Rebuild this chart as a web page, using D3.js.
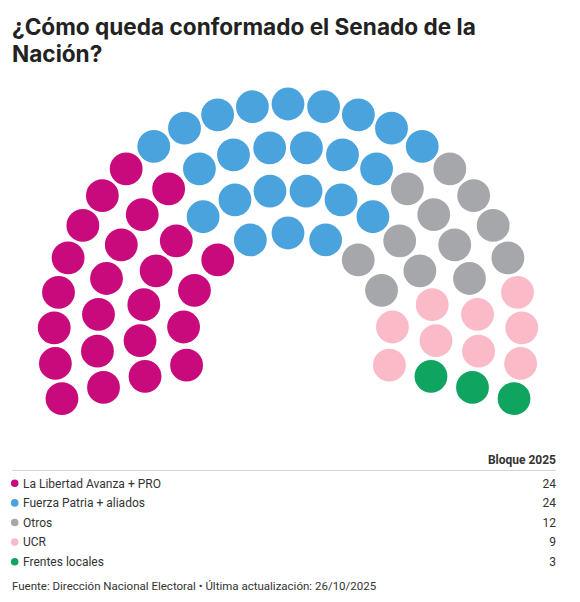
<!DOCTYPE html>
<html><head><meta charset="utf-8">
<script src="https://cdn.jsdelivr.net/npm/d3@7"></script>
<style>body{margin:0;background:#fff}svg{display:block}</style>
</head><body>
<svg id="c" width="580" height="602"></svg>
<script>
// ---- data ----
const parties = ["La Libertad Avanza + PRO","Fuerza Patria + aliados","Otros","UCR","Frentes locales"];
const seats = [24,24,12,9,3];
const colors = ["#c80a7d","#4ba3dd","#a5a7aa","#fbbac8","#0fa45f"];
const rowSeats = [11,16,20,25];
const titleLines = ["¿Cómo queda conformado el Senado de la","Nación?"];
const headerLabel = "Bloque 2025";
const footer = "Fuente: Dirección Nacional Electoral • Última actualización: 26/10/2025";

const svg = d3.select("#c");
const font = "Roboto, 'Liberation Sans', sans-serif";
const titleFont = "Inter, Roboto, sans-serif";

// title
svg.append("g").selectAll("text").data(titleLines).join("text")
  .attr("x", 12).attr("y", (d,i)=>34.5 + i*27)
  .attr("font-family", titleFont).attr("font-weight", 700).attr("font-size", 22.6)
  .attr("fill", "#222").text(d=>d);

// hemicycle geometry
const cx = 288, cy = 338;
const rScale = d3.scaleLinear().domain([0, rowSeats.length-1]).range([105, 234]);
const deg = Math.PI/180;
let seatList = [];
rowSeats.forEach((n,row)=>{
  const a = d3.scaleLinear().domain([0,n-1]).range([195*deg, -15*deg]);
  for (let i=0;i<n;i++){
    seatList.push({row, ang:a(i), r:rScale(row)});
  }
});
seatList.sort((p,q)=> (q.ang - p.ang) > 1e-9 ? 1 : (p.ang - q.ang) > 1e-9 ? -1 : p.row - q.row);
// assign parties
const partyIdx = [];
seats.forEach((s,i)=>{ for(let k=0;k<s;k++) partyIdx.push(i); });
seatList.forEach((s,i)=> s.p = partyIdx[i]);

svg.append("g").selectAll("circle").data(seatList).join("circle")
  .attr("cx", d=>cx + d.r*Math.cos(d.ang))
  .attr("cy", d=>cy - d.r*Math.sin(d.ang))
  .attr("r", 16.4)
  .attr("fill", d=>colors[d.p]);

// legend table
const lg = svg.append("g");
lg.append("text").attr("x", 556).attr("y", 464).attr("text-anchor","end")
  .attr("font-family", font).attr("font-weight",700).attr("font-size",12)
  .attr("fill","#333").text(headerLabel);
lg.append("line").attr("x1",12).attr("x2",556).attr("y1",470.5).attr("y2",470.5)
  .attr("stroke","#d4d4d4").attr("stroke-width",1);
const yRow = d3.scaleLinear().domain([0,1]).range([483.3, 502.9]);
const rows = lg.selectAll("g.row").data(parties).join("g").attr("class","row")
  .attr("transform",(d,i)=>`translate(0,${yRow(i)})`);
rows.append("circle").attr("cx",14.7).attr("cy",0).attr("r",3.8).attr("fill",(d,i)=>colors[i]);
rows.append("text").attr("x",23).attr("y",4.3)
  .attr("font-family", font).attr("font-size",12).attr("fill","#333").text(d=>d);
rows.append("text").attr("x",556).attr("y",4.3).attr("text-anchor","end")
  .attr("font-family", font).attr("font-size",12).attr("fill","#333").text((d,i)=>seats[i]);

svg.append("text").attr("x",12).attr("y",589.5)
  .attr("font-family", font).attr("font-size",11.5).attr("fill","#333").text(footer);
</script>
</body></html>
